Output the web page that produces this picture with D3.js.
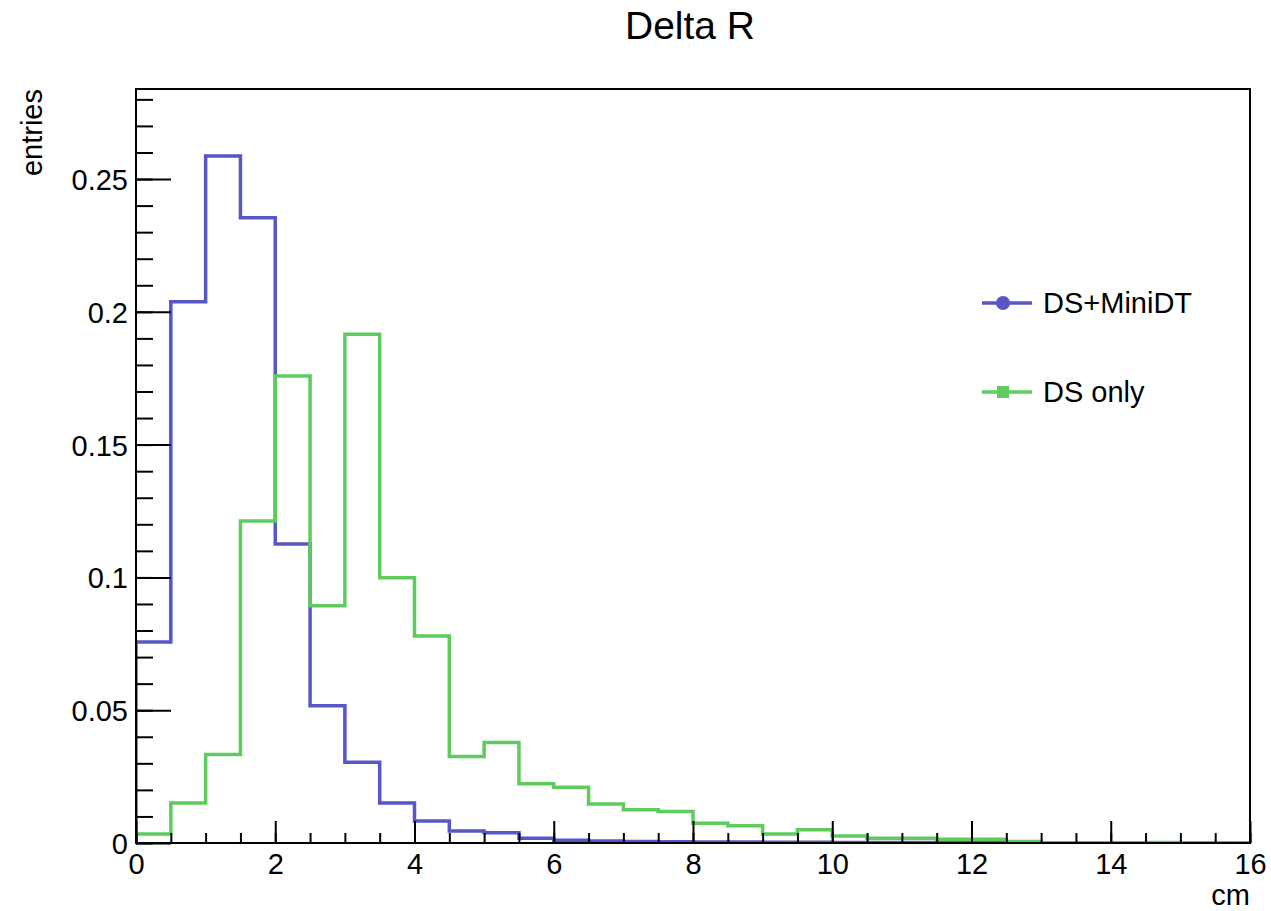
<!DOCTYPE html>
<html>
<head>
<meta charset="utf-8">
<script src="https://cdn.jsdelivr.net/npm/d3@7"></script>
<style>
  body { margin: 0; background: #fff; }
  text { font-family: "Liberation Sans", Arial, sans-serif; fill: #000; }
</style>
</head>
<body>
<div class="main"></div>
<script>
// bin edges: 0..16 cm, 0.5 wide
const binEdges = d3.range(0, 16.01, 0.5);
const dsMiniDT = [0.0757, 0.2038, 0.2587, 0.2354, 0.1126, 0.0517, 0.0304, 0.0151,
  0.0083, 0.0045, 0.0039, 0.0018, 0.0010, 0.0008, 0.0006, 0.0005,
  0.0004, 0.0004, 0.0003, 0.0003, 0.0002, 0.0002, 0.0002, 0.0001,
  0.0001, 0, 0, 0, 0, 0, 0, 0];
const dsOnly = [0.0034, 0.0151, 0.0333, 0.1212, 0.1758, 0.0893, 0.1916, 0.0999,
  0.0779, 0.0326, 0.0378, 0.0223, 0.0210, 0.0147, 0.0125, 0.0119,
  0.0074, 0.0065, 0.0034, 0.0050, 0.0026, 0.0018, 0.0018, 0.0014,
  0.0014, 0.0006, 0, 0, 0, 0.0002, 0, 0];
const xTicks = [0, 2, 4, 6, 8, 10, 12, 14, 16];
const yTicks = [0, 0.05, 0.1, 0.15, 0.2, 0.25];
const seriesNames = ['DS+MiniDT', 'DS only'];

const w = 1271, h = 911;
const padL = 136, padR = 1250, padT = 89, padB = 843;

const svg = d3.select('.main')
            .append('svg')
            .attr('width', w)
            .attr('height', h)

const x = d3.scaleLinear().domain([0, 16]).range([padL, padR]);
const y = d3.scaleLinear().domain([0, 0.2839]).range([padB, padT]);

// title
svg.append('text')
    .attr('x', 690)
    .attr('y', 39)
    .attr('text-anchor', 'middle')
    .style('font-size', '39px')
    .text('Delta R')

svg.append('clipPath')
    .attr('id', 'clip')
    .append('rect')
    .attr('x', padL).attr('y', padT)
    .attr('width', padR - padL).attr('height', padB - padT)

// step histograms
const stepPath = vals => {
    const pts = [[binEdges[0], 0]];
    vals.forEach((v, i) => {
        pts.push([binEdges[i], v]);
        pts.push([binEdges[i + 1], v]);
    });
    pts.push([binEdges[vals.length], 0]);
    return d3.line().x(d => x(d[0])).y(d => y(d[1]))(pts);
}

const colors = ['#5656c6', '#5ecb5e'];

svg.append('g')
    .attr('clip-path', 'url(#clip)')
    .selectAll('path')
    .data([dsMiniDT, dsOnly])
    .enter()
    .append('path')
    .attr('d', d => stepPath(d))
    .attr('fill', 'none')
    .attr('stroke', (d, i) => colors[i])
    .attr('stroke-width', 3.5)

// axes
const xAxis = d3.axisBottom(x)
                .tickValues(xTicks)
                .tickSize(22)
                .tickFormat(d3.format('d'))
const xMinor = d3.axisBottom(x)
                .tickValues(d3.range(0, 16.01, 0.5))
                .tickSize(10)
                .tickFormat('')

const xg = svg.append('g')
    .attr('transform', `translate(0, ${padB})`)
    .call(xAxis)
xg.select('.domain').remove()
xg.selectAll('line').attr('y1', 0).attr('y2', -22).attr('stroke', '#000').attr('stroke-width', 2)
xg.selectAll('text').attr('y', 31).attr('dy', 0).style('font-size', '29px')

const xm = svg.append('g')
    .attr('transform', `translate(0, ${padB})`)
    .call(xMinor)
xm.select('.domain').remove()
xm.selectAll('line').attr('y1', 0).attr('y2', -10).attr('stroke', '#000').attr('stroke-width', 2)

const yAxis = d3.axisLeft(y)
                .tickValues(yTicks)
                .tickFormat(d => d === 0 ? '0' : d3.format('')(d))
const yMinor = d3.axisLeft(y)
                .tickValues(d3.range(0, 0.2839, 0.01))
                .tickFormat('')

const yg = svg.append('g')
    .attr('transform', `translate(${padL}, 0)`)
    .call(yAxis)
yg.select('.domain').remove()
yg.selectAll('line').attr('x1', 0).attr('x2', 35).attr('stroke', '#000').attr('stroke-width', 2)
yg.selectAll('text').attr('x', -8).attr('dy', '0.36em').style('font-size', '29px')

const ym = svg.append('g')
    .attr('transform', `translate(${padL}, 0)`)
    .call(yMinor)
ym.select('.domain').remove()
ym.selectAll('line').attr('x1', 0).attr('x2', 17).attr('stroke', '#000').attr('stroke-width', 2)

// frame
svg.append('rect')
    .attr('x', padL).attr('y', padT)
    .attr('width', padR - padL).attr('height', padB - padT)
    .attr('fill', 'none')
    .attr('stroke', '#000')
    .attr('stroke-width', 2)

// axis titles
svg.append('text')
    .attr('x', padR)
    .attr('y', 905)
    .attr('text-anchor', 'end')
    .style('font-size', '29px')
    .text('cm')

svg.append('text')
    .attr('transform', `translate(42, ${padT}) rotate(-90)`)
    .attr('text-anchor', 'end')
    .style('font-size', '29px')
    .text('entries')

// legend
const legend = svg.append('g')
    .attr('class', 'legend')

const rows = legend.selectAll('g')
    .data(seriesNames)
    .enter()
    .append('g')
    .attr('transform', (d, i) => `translate(982, ${303 + i * 89})`)

rows.append('line')
    .attr('x1', 0).attr('x2', 50)
    .attr('stroke', (d, i) => colors[i])
    .attr('stroke-width', 3.5)

rows.filter((d, i) => i === 0)
    .append('circle')
    .attr('cx', 21).attr('r', 7)
    .attr('fill', colors[0])

rows.filter((d, i) => i === 1)
    .append('rect')
    .attr('x', 15).attr('y', -6)
    .attr('width', 12).attr('height', 12)
    .attr('fill', colors[1])

rows.append('text')
    .attr('x', 61)
    .attr('dy', '0.36em')
    .style('font-size', '29px')
    .text(d => d)
</script>
</body>
</html>
